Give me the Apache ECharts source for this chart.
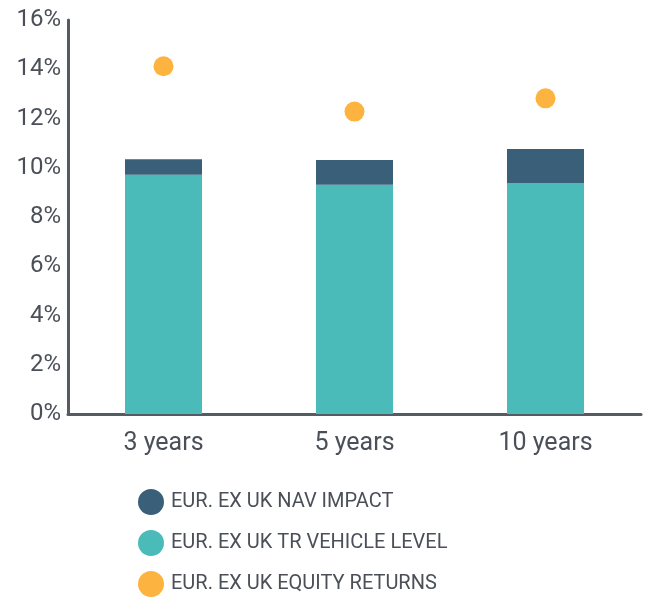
<!DOCTYPE html>
<html>
<head>
<meta charset="utf-8">
<script src="https://cdn.jsdelivr.net/npm/echarts@6/dist/echarts.min.js"></script>
<style>
  html, body { margin: 0; padding: 0; background: #fff; }
  #chart { width: 649px; height: 599px; }
</style>
</head>
<body>
<div id="chart"></div>
<script>
const categories = ['3 years', '5 years', '10 years']
const navImpact = [0.63, 1.0, 1.38]
const vehicleLevel = [9.72, 9.31, 9.38]
const equityReturns = [14.12, 12.28, 12.82]

const textColor = '#4b5058'
const fontFamily = 'Roboto'

const chart = echarts.init(document.getElementById('chart'))
chart.setOption({
  animation: false,
  grid: { left: 68, right: 8, top: 20, bottom: 185 },
  legend: {
    orient: 'vertical',
    left: 138,
    top: 489,
    padding: 0,
    icon: 'circle',
    itemWidth: 26,
    itemHeight: 26,
    itemGap: 15,
    data: ['EUR. EX UK NAV IMPACT', 'EUR. EX UK TR VEHICLE LEVEL', 'EUR. EX UK EQUITY RETURNS'],
    textStyle: { color: textColor, fontSize: 20, fontFamily: fontFamily, padding: [0, 0, 0, 2] }
  },
  xAxis: {
    type: 'category',
    data: categories,
    axisLine: { lineStyle: { color: '#555b63', width: 3 } },
    axisTick: { show: false },
    axisLabel: { color: textColor, fontSize: 25, fontFamily: fontFamily, margin: 17 }
  },
  yAxis: {
    type: 'value',
    min: 0,
    max: 16,
    interval: 2,
    axisLine: { show: true, lineStyle: { color: '#555b63', width: 3 } },
    axisTick: { show: false },
    splitLine: { show: false },
    axisLabel: { formatter: '{value}%', color: textColor, fontSize: 24, fontFamily: fontFamily, margin: 7 }
  },
  series: [
    {
      name: 'EUR. EX UK TR VEHICLE LEVEL',
      type: 'bar',
      stack: 'total',
      barWidth: 77,
      data: vehicleLevel,
      itemStyle: { color: '#4abbb8' },
      z: 2
    },
    {
      name: 'EUR. EX UK NAV IMPACT',
      type: 'bar',
      stack: 'total',
      data: navImpact,
      itemStyle: { color: '#3a5f79' },
      z: 2
    },
    {
      name: 'EUR. EX UK EQUITY RETURNS',
      type: 'scatter',
      symbolSize: 20,
      data: equityReturns,
      itemStyle: { color: '#fdb33f', opacity: 1 },
      z: 3
    }
  ]
})
</script>
</body>
</html>
